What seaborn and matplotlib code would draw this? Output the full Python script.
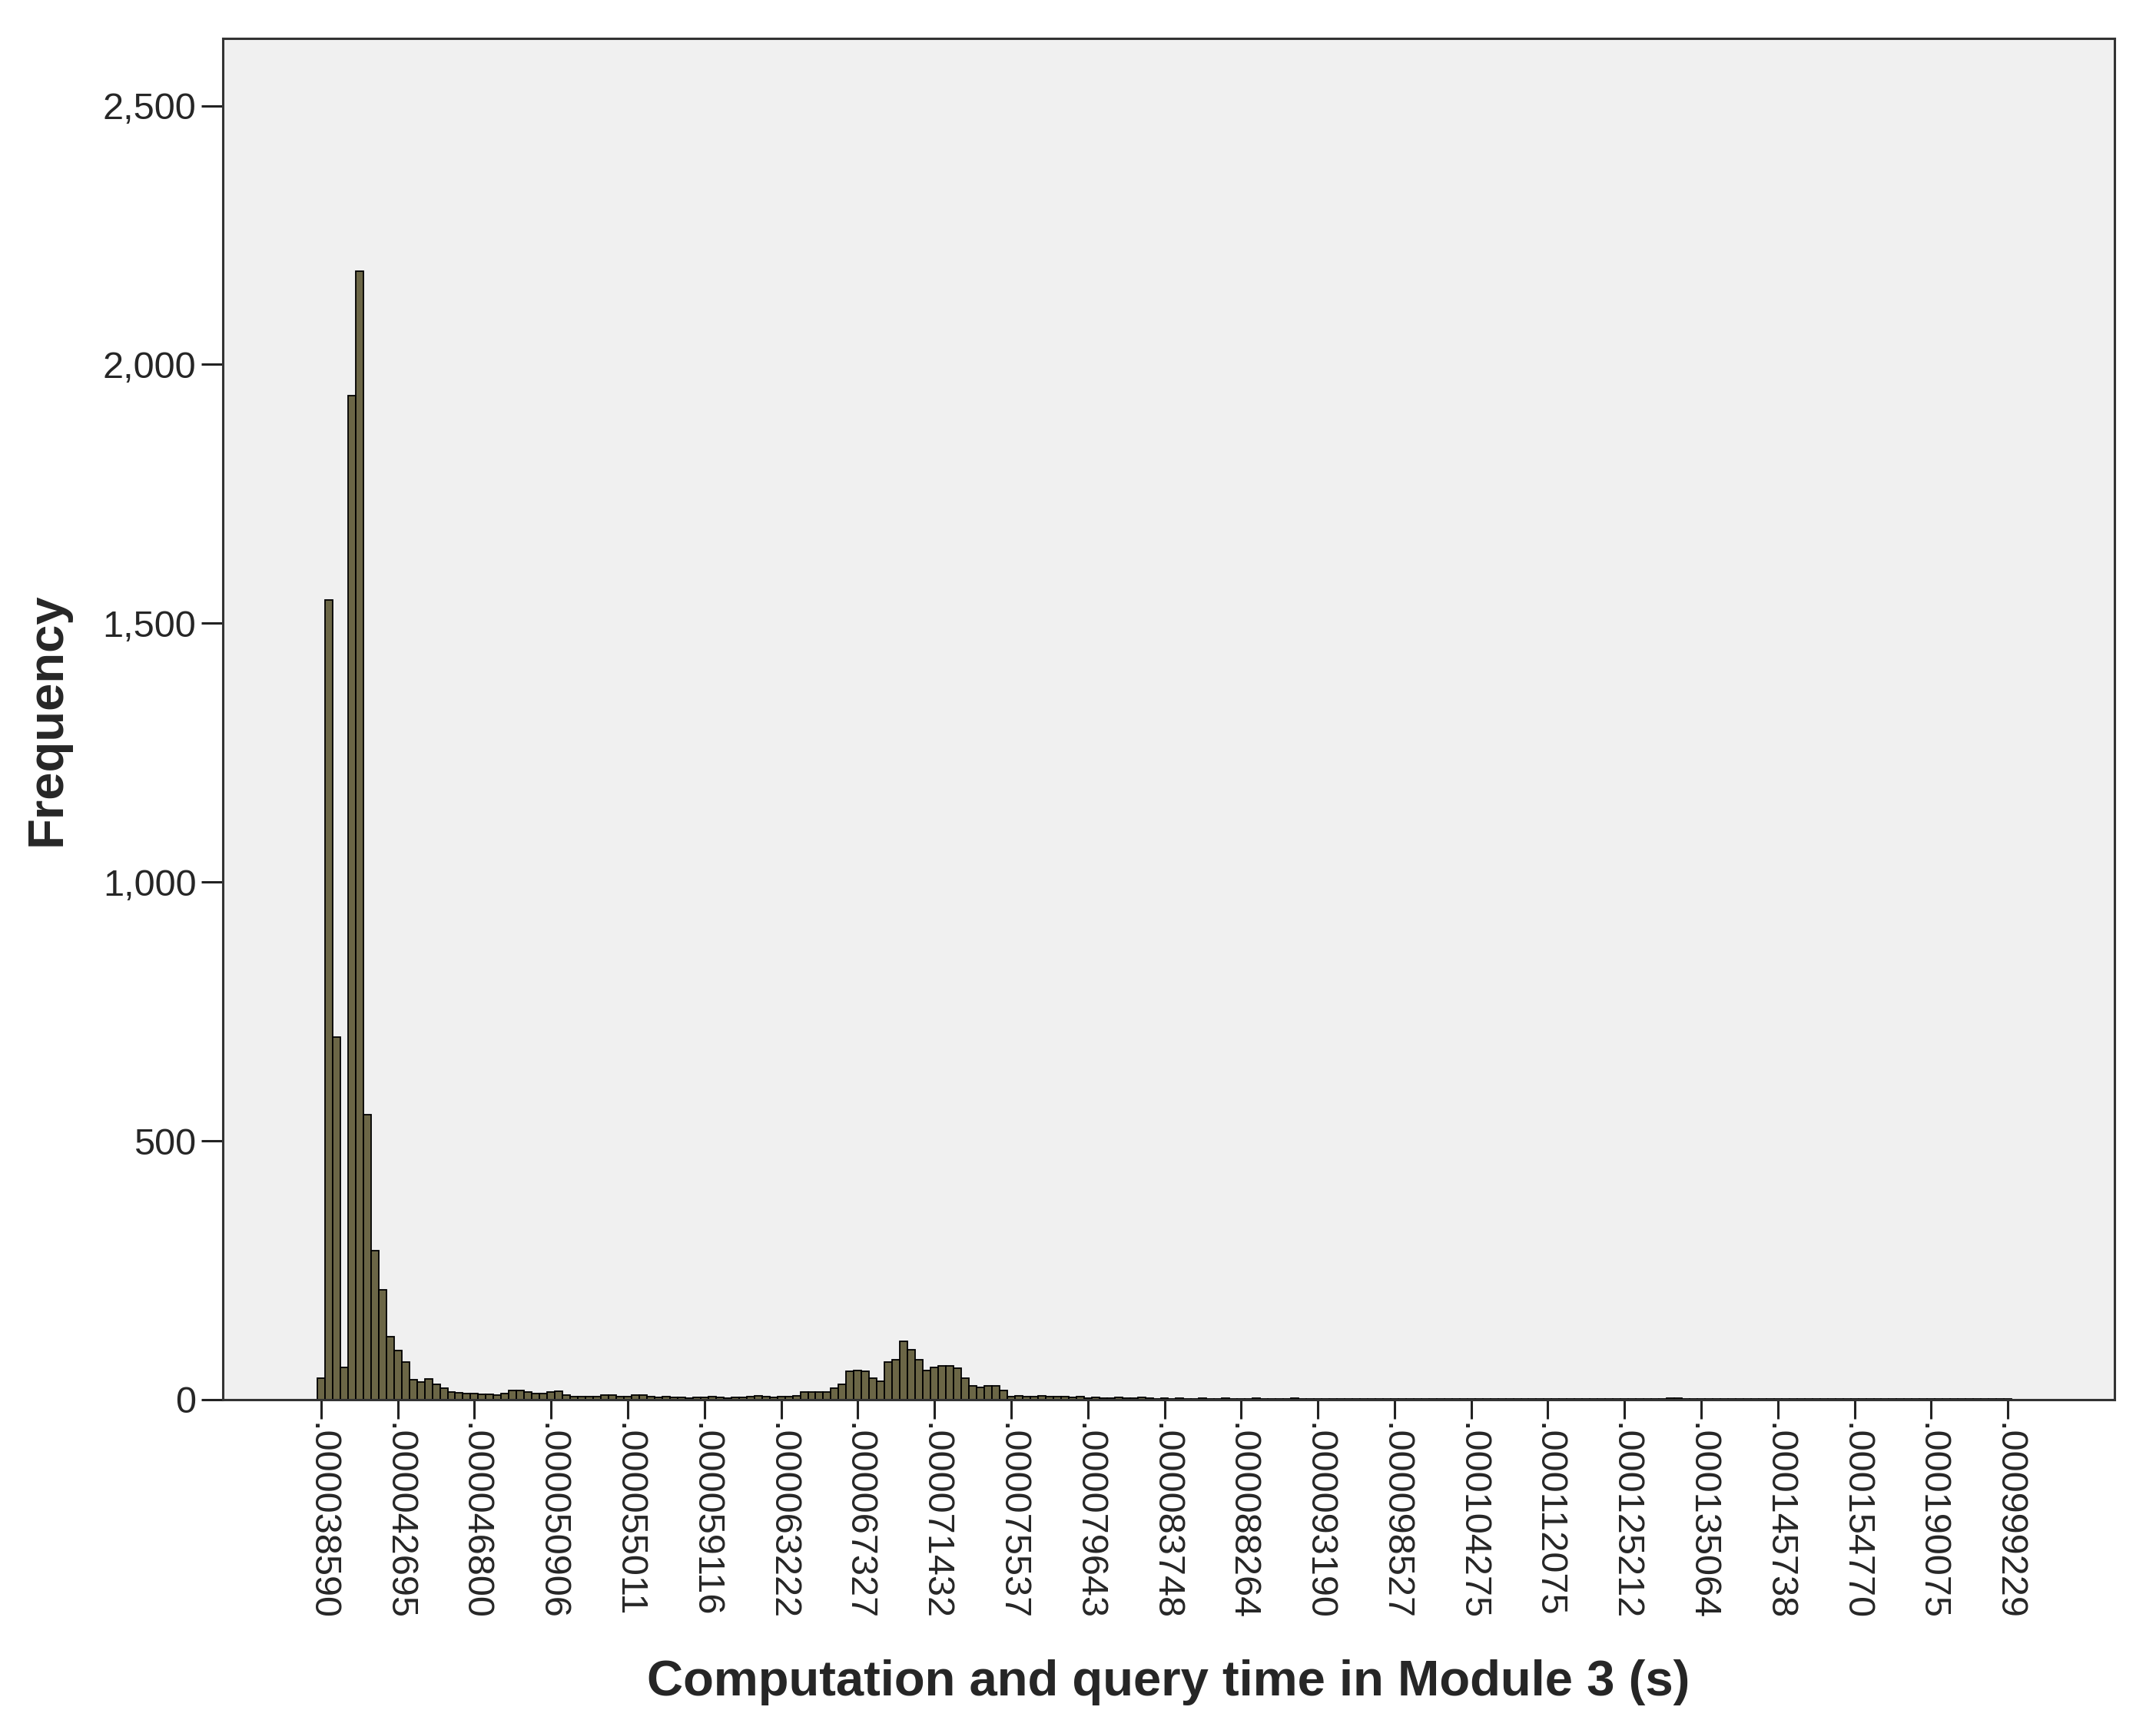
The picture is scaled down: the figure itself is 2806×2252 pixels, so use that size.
import matplotlib.pyplot as plt
import matplotlib.ticker as mticker
import seaborn as sns

sns.set_style("white")
plt.rcParams['font.family'] = ['Liberation Sans', 'DejaVu Sans']

# bar counts per distinct time value (221 categories)
counts = [
    42, 1545, 700, 62, 1940, 2180, 550, 288, 212, 122,
    95, 72, 38, 34, 40, 30, 22, 15, 13, 12,
    11, 10, 10, 9, 12, 18, 17, 15, 12, 11,
    14, 16, 8, 6, 5, 5, 6, 9, 8, 5,
    5, 8, 9, 5, 4, 6, 4, 4, 3, 4,
    4, 6, 4, 3, 4, 4, 5, 7, 6, 4,
    5, 5, 7, 15, 14, 14, 15, 22, 30, 55,
    56, 55, 42, 35, 72, 77, 112, 97, 77, 56,
    62, 65, 65, 60, 42, 27, 24, 27, 27, 17,
    6, 7, 6, 6, 7, 6, 6, 5, 4, 5,
    3, 4, 3, 3, 4, 3, 3, 4, 3, 2,
    3, 2, 3, 2, 2, 3, 2, 2, 3, 2,
    2, 2, 3, 2, 2, 2, 2, 3, 2, 2,
    2, 1, 2, 1, 2, 1, 1, 2, 1, 1,
    2, 1, 1, 1, 2, 1, 1, 1, 1, 2,
    1, 1, 1, 1, 1, 2, 1, 1, 1, 1,
    1, 1, 2, 1, 1, 1, 1, 1, 1, 1,
    1, 1, 1, 1, 1, 2, 3, 3, 2, 1,
    1, 1, 1, 1, 1, 1, 1, 1, 1, 2,
    1, 1, 1, 1, 1, 1, 1, 1, 1, 1,
    2, 1, 1, 1, 1, 1, 1, 1, 1, 1,
    1, 1, 1, 1, 1, 1, 1, 1, 1, 1,
    1,
]
categories = list(range(len(counts)))

# every 10th category is labelled
tick_labels = [
    ".000038590", ".000042695", ".000046800", ".000050906", ".000055011",
    ".000059116", ".000063222", ".000067327", ".000071432", ".000075537",
    ".000079643", ".000083748", ".000088264", ".000093190", ".000098527",
    ".000104275", ".000112075", ".000125212", ".000135064", ".000145738",
    ".000154770", ".000190075", ".000999229",
]
y_ticks = [0, 500, 1000, 1500, 2000, 2500]

fig = plt.figure(figsize=(28.06, 22.52), dpi=100)
ax = fig.add_axes([0.1034, 0.191, 0.8773, 0.7868])
ax.set_facecolor("#f0f0f0")

sns.barplot(x=categories, y=counts, order=categories, width=1.0,
            color="#6b6646", saturation=1, edgecolor="black",
            linewidth=1.3, ax=ax)

ax.set_xlim(-12.8, 233.9)
ax.set_ylim(0, 2630)

ax.set_xticks(categories[::10])
ax.set_xticklabels(tick_labels, rotation=-90, fontsize=35)
ax.set_yticks(y_ticks)
ax.yaxis.set_major_formatter(mticker.FuncFormatter(lambda v, p: f"{int(v):,}"))
ax.tick_params(axis="y", labelsize=35, length=20, width=2.2, pad=5,
               left=True, color="#222222")
ax.tick_params(axis="x", length=18, width=2.2, pad=4, bottom=True,
               color="#222222")

for side in ["left", "right", "top", "bottom"]:
    ax.spines[side].set_visible(True)
    ax.spines[side].set_color("#333333")
    ax.spines[side].set_linewidth(2.2)

ax.set_xlabel("Computation and query time in Module 3 (s)", fontsize=47,
              fontweight="bold", labelpad=36)
ax.set_ylabel("Frequency", fontsize=47, fontweight="bold", labelpad=30)

fig.savefig("out.png", dpi=100)
